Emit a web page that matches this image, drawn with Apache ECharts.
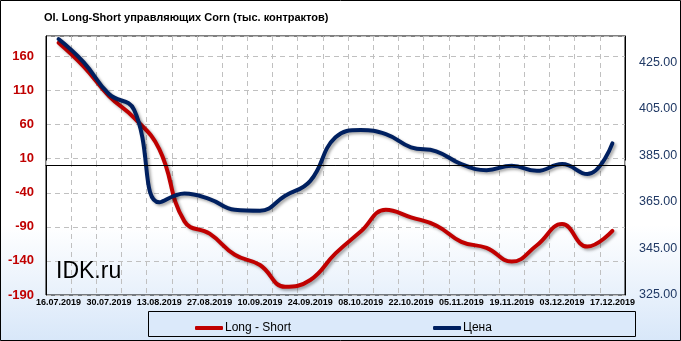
<!DOCTYPE html>
<html>
<head>
<meta charset="utf-8">
<script src="https://cdn.jsdelivr.net/npm/echarts@6/dist/echarts.min.js"></script>
<style>
html,body{margin:0;padding:0;background:#fff;}
#c{width:681px;height:341px;}
</style>
</head>
<body>
<div id="c"></div>
<script>
const titleText = 'OI. Long-Short управляющих Corn (тыс. контрактов)';
const categories = ['16.07.2019','23.07.2019','30.07.2019','06.08.2019','13.08.2019','20.08.2019','27.08.2019','03.09.2019','10.09.2019','17.09.2019','24.09.2019','01.10.2019','08.10.2019','15.10.2019','22.10.2019','29.10.2019','05.11.2019','12.11.2019','19.11.2019','26.11.2019','03.12.2019','10.12.2019','17.12.2019'];
const longShort = [180, 145, 102, 70, 24, -82, -100, -131, -146, -178, -168, -129, -97, -65, -76, -88, -112, -121, -141, -117, -86, -119, -96];
const price = [434.9, 424.9, 411.3, 404.5, 364.8, 368.6, 366.2, 361.6, 361.2, 367.6, 374.0, 392.7, 395.8, 394.1, 388.4, 386.7, 381.2, 378.6, 380.5, 378.3, 381.2, 376.9, 390.1];
const seriesNames = ['Long - Short', 'Цена'];
const leftMin = -190, leftMax = 190, leftStep = 50;
const rightMin = 325, rightMax = 436.2, rightStep = 20;

const chart = echarts.init(document.getElementById('c'), null, {renderer: 'canvas'});
const shadow = {shadowColor: 'rgba(0,0,0,0.35)', shadowBlur: 3, shadowOffsetX: 2, shadowOffsetY: 2};
chart.setOption({
  animation: false,
  backgroundColor: {type: 'linear', x: 0, y: 0, x2: 0, y2: 1, colorStops: [
    {offset: 0, color: '#ffffff'}, {offset: 0.66, color: '#ffffff'}, {offset: 1, color: '#d8e7f9'}]},
  title: {text: titleText, left: 39, top: 7, textStyle: {fontFamily: 'Liberation Sans', fontWeight: 'bold', fontSize: 11, color: '#000'}},
  grid: {left: 46, right: 56, top: 36, bottom: 46, show: true, borderColor: '#000', borderWidth: 1, backgroundColor: 'transparent'},
  legend: {left: 190, top: 317, itemGap: 142, itemWidth: 28, itemHeight: 4, icon: 'roundRect',
    textStyle: {fontFamily: 'Liberation Sans', fontSize: 12, color: '#000', padding: [0,0,0,-3]},
    data: seriesNames},
  graphic: [
    {type: 'rect', z: -10, shape: {x: 148.5, y: 311.5, width: 487, height: 25}, style: {fill: '#dbe9fa', stroke: '#000', lineWidth: 1}},
    {type: 'rect', z: 100, shape: {x: 0.5, y: 0.5, width: 680, height: 340}, style: {fill: 'none', stroke: '#000', lineWidth: 1}},
    {type: 'text', z: 50, left: 56, top: 260, style: {text: 'IDK.ru', font: '23px "Liberation Sans"', fill: '#000'}}
  ],
  xAxis: {
    type: 'category', data: categories, boundaryGap: true,
    axisLine: {show: true, lineStyle: {color: '#000'}},
    axisTick: {show: true, inside: true, length: 5, interval: 0, lineStyle: {color: '#bfbfbf'}},
    axisLabel: {interval: 1, margin: 3, fontFamily: 'Liberation Sans', fontWeight: 'bold', fontSize: 9, color: '#000'},
    splitLine: {show: true, interval: 0, lineStyle: {color: '#c0c0c0', type: [5, 4]}}
  },
  yAxis: [
    {type: 'value', min: leftMin, max: leftMax, interval: leftStep, position: 'left',
      axisLine: {show: true, lineStyle: {color: '#000'}}, axisTick: {show: false},
      axisLabel: {showMaxLabel: false, margin: 12, fontFamily: 'Liberation Sans', fontWeight: 'bold', fontSize: 13, color: '#c00000'},
      splitLine: {show: true, lineStyle: {color: '#c0c0c0', type: [5, 4]}}},
    {type: 'value', min: rightMin, max: rightMax, interval: rightStep, position: 'right',
      axisLine: {show: true, lineStyle: {color: '#000'}}, axisTick: {show: false},
      axisLabel: {showMaxLabel: false, margin: 14, fontFamily: 'Liberation Sans', fontSize: 12.5, color: '#1f3864',
        formatter: v => v.toFixed(2)},
      splitLine: {show: false}}
  ],
  series: [
    {name: seriesNames[0], type: 'line', yAxisIndex: 0, data: longShort, smooth: 0.45, showSymbol: false, symbol: 'none',
      color: '#c00000', lineStyle: Object.assign({width: 4, color: '#c00000', cap: 'round'}, shadow),
      markLine: {silent: true, symbol: 'none', label: {show: false}, lineStyle: {color: '#000', type: 'solid', width: 1}, data: [{yAxis: 0}]}},
    {name: seriesNames[1], type: 'line', yAxisIndex: 1, data: price, smooth: 0.45, showSymbol: false, symbol: 'none',
      color: '#002060', lineStyle: Object.assign({width: 4, color: '#002060', cap: 'round'}, shadow)}
  ]
});
</script>
</body>
</html>
